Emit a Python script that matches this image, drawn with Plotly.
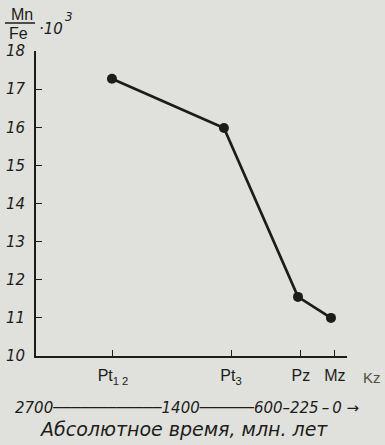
import plotly.graph_objects as go

# Mn/Fe ratio (x10^3) by geological period, plotted against absolute age (Myr)
periods = ["Pt<sub>1 2</sub>", "Pt<sub>3</sub>", "Pz", "Mz"]
point_ages = [2067, 1082, 431, 141]
mn_fe = [17.27, 15.98, 11.55, 11.0]

# positions of the period ticks on the age scale
period_tick_ages = [2058, 1020, 405, 106]

# absolute time scale
time_ticks = [2700, 600, 225, 0]
DASH = "\u2500"
THIN = "\u2009"
time_label_line = ("2700" + DASH * 12 + "1400" + DASH * 6 + "600\u2013225"
                   + THIN + "\u2013" + THIN + "0 \u2192")
time_title = "Абсолютное время, млн. лет"

y_ticks = [10, 11, 12, 13, 14, 15, 16, 17, 18]

BG = "#e0e1dc"
INK = "#1c1c1a"
FONT = "Liberation Sans"
OBLIQUE = "DejaVu Sans"

W, H = 385, 445
ML, MR, MT, MB = 36, 38, 51, 52
plot_h = H - MT - MB
plot_w = W - ML - MR


def px_x(px):
    return (px - ML) / plot_w


def px_y(py):
    return (H - MB - py) / plot_h


fig = go.Figure()
fig.add_trace(go.Scatter(
    x=point_ages, y=mn_fe, mode="lines+markers",
    line=dict(color=INK, width=2.7),
    marker=dict(color=INK, size=10),
    xaxis="x", yaxis="y", showlegend=False, hoverinfo="skip",
))

fig.update_layout(
    width=W, height=H,
    margin=dict(l=ML, r=MR, t=MT, b=MB, autoexpand=False),
    paper_bgcolor=BG, plot_bgcolor=BG,
    font=dict(family=FONT, color=INK, size=15),
    xaxis=dict(
        range=[2735, 0], anchor="y", domain=[0, 1],
        showline=True, linecolor=INK, linewidth=2,
        showgrid=False, zeroline=False, automargin=False,
        tickmode="array", tickvals=period_tick_ages, ticktext=periods,
        ticks="inside", ticklen=6, tickcolor=INK, tickwidth=1,
        ticklabelstandoff=4,
        tickfont=dict(size=16, color=INK, family=FONT),
    ),
    yaxis=dict(
        range=[10, 18], domain=[px_y(356), 1], anchor="x",
        showline=True, linecolor=INK, linewidth=2,
        showgrid=False, zeroline=False, automargin=False,
        tickmode="array", tickvals=y_ticks,
        ticks="inside", ticklen=6, tickcolor=INK, tickwidth=1,
        ticklabelstandoff=6,
        tickfont=dict(size=15, color=INK, family=OBLIQUE, style="italic"),
    ),
    xaxis2=dict(
        range=[2735, 0], anchor="y2", domain=[0, 1],
        showline=True, linecolor=INK, linewidth=2,
        showgrid=False, zeroline=False, automargin=False,
        tickmode="array", tickvals=time_ticks,
        ticks="inside", ticklen=5, tickcolor=INK, tickwidth=1,
        showticklabels=False,
    ),
    yaxis2=dict(domain=[0, 0.02], visible=False, range=[0, 1]),
)


def label(text, px, py, size, family=FONT, italic=False, xanchor="center", color=INK):
    font = dict(size=size, color=color, family=family)
    if italic:
        font["style"] = "italic"
    return dict(text=text, x=px_x(px), y=px_y(py), xref="paper", yref="paper",
                xanchor=xanchor, yanchor="middle", showarrow=False, font=font)


ann = [
    # axis title: Mn/Fe * 10^3
    label("Mn", 22, 14, 16),
    label("Fe", 18, 33, 16),
    label("\u00b710", 37, 29, 15, family=OBLIQUE, italic=True, xanchor="left"),
    label("3", 69, 17, 12, family=OBLIQUE, italic=True),
    # Kz label past the end of the period axis
    label("Kz", 372, 377, 15, color="#50503e"),
    # absolute time scale labels
    label(time_label_line, 13, 408, 15, family=OBLIQUE, italic=True, xanchor="left"),
    label(time_title, 183, 429, 19, family=OBLIQUE, italic=True),
]
fig.update_layout(annotations=ann)

fig.add_shape(type="line", xref="paper", yref="paper",
              x0=px_x(5), x1=px_x(35), y0=px_y(23), y1=px_y(23),
              line=dict(color=INK, width=1.5))

fig.write_html("out.html")
